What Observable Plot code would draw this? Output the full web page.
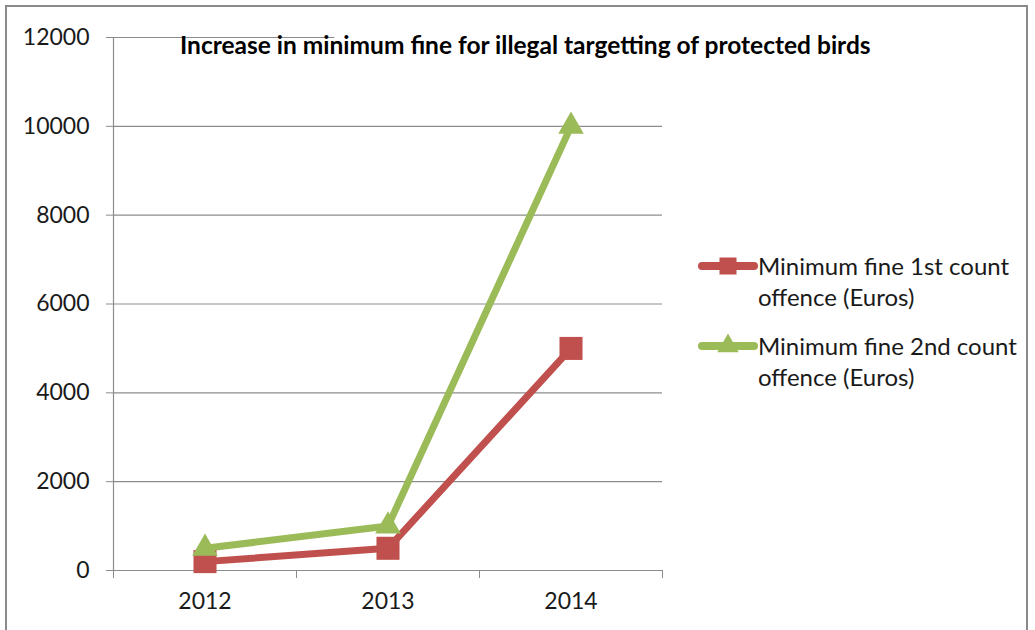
<!DOCTYPE html>
<html>
<head>
<meta charset="utf-8">
<script src="https://cdn.jsdelivr.net/npm/d3@7"></script>
<script src="https://cdn.jsdelivr.net/npm/@observablehq/plot@0.6"></script>
<style>
  html, body { margin: 0; padding: 0; background: #fff; }
  body { width: 1035px; height: 630px; position: relative; overflow: hidden; font-family: Lato, "Open Sans", sans-serif; }
  #frame { position: absolute; left: 5px; top: 5px; width: 1023px; height: 640px; border: 2px solid #8a8a8a; box-sizing: border-box; }
  #chart { position: absolute; left: 0; top: 0; }
  #title { position: absolute; left: 180px; top: 30px; font-weight: bold; font-size: 24.5px; color: #000; white-space: nowrap; }
  #legend { position: absolute; left: 698px; top: 250px; }
  .item { display: flex; align-items: flex-start; margin-bottom: 18px; }
  .item svg { flex: none; }
  .item .txt { font-size: 24px; line-height: 31px; color: #1a1a1a; }
  .mk { filter: drop-shadow(2px 3px 2px rgba(0,0,0,0.35)); }
</style>
</head>
<body>
<div id="frame"></div>
<div id="chart"></div>
<div id="title">Increase in minimum fine for illegal targetting of protected birds</div>
<div id="legend"></div>
<script>
const years = [2012, 2013, 2014];
const firstOffence = [200, 500, 5000];
const secondOffence = [500, 1000, 10000];
const yTicks = [0, 2000, 4000, 6000, 8000, 10000, 12000];
const seriesNames = ["Minimum fine 1st count offence (Euros)", "Minimum fine 2nd count offence (Euros)"];
const colors = ["#C0504D", "#9BBB59"];

const d1 = years.map((y, i) => ({year: y, value: firstOffence[i]}));
const d2 = years.map((y, i) => ({year: y, value: secondOffence[i]}));
const bounds = [years[0] - 0.5, ...years.map(y => y + 0.5)];
const grid = "#8c8c8c";

const plot = Plot.plot({
  width: 1035,
  height: 630,
  marginLeft: 113,
  marginRight: 373,
  marginTop: 37,
  marginBottom: 60,
  style: {fontFamily: "Lato, 'Open Sans', sans-serif", fontSize: "23px", color: "#1a1a1a", background: "transparent"},
  x: {type: "linear", domain: [bounds[0], bounds[bounds.length - 1]]},
  y: {domain: [0, 12000]},
  marks: [
    Plot.ruleY(yTicks.slice(1, -1), {stroke: grid, strokeWidth: 1.2}),
    Plot.ruleY([12000], {x1: bounds[0], x2: 2012.71, stroke: grid, strokeWidth: 1.2}),
    Plot.ruleY([0], {stroke: grid, strokeWidth: 1.2}),
    Plot.ruleX([bounds[0]], {y1: 0, y2: 12000, stroke: grid, strokeWidth: 1.2}),
    Plot.axisY({ticks: yTicks, tickSize: 7, tickPadding: 17, tickFormat: d => String(d), label: null, stroke: grid}),
    Plot.axisX({ticks: bounds, tickSize: 8, tickFormat: () => "", label: null, stroke: grid}),
    Plot.axisX({ticks: years, tickSize: 0, tickPadding: 22, tickFormat: d => String(d), label: null}),
    Plot.line(d1, {x: "year", y: "value", stroke: colors[0], strokeWidth: 7, strokeLinejoin: "round"}),
    Plot.dot(d1, {x: "year", y: "value", symbol: "square", r: 13, fill: colors[0], stroke: "none", ariaLabel: "mk1"}),
    Plot.line(d2, {x: "year", y: "value", stroke: colors[1], strokeWidth: 7, strokeLinejoin: "round"}),
    Plot.dot(d2, {x: "year", y: "value", symbol: "triangle", r: 9.5, fill: colors[1], stroke: "none", ariaLabel: "mk2"})
  ]
});
document.getElementById("chart").appendChild(plot);
plot.querySelectorAll('g[aria-label="mk1"], g[aria-label="mk2"]').forEach(g => g.classList.add("mk"));

const legend = d3.select("#legend");
const symbols = [d3.symbolSquare, d3.symbolTriangle];
const symSizes = [290, 200];
seriesNames.forEach((name, i) => {
  const it = legend.append("div").attr("class", "item");
  const s = it.append("svg").attr("width", 60).attr("height", 31);
  s.append("line").attr("x1", 4).attr("x2", 56).attr("y1", 16).attr("y2", 16)
    .attr("stroke", colors[i]).attr("stroke-width", 8).attr("stroke-linecap", "round");
  s.append("path").attr("d", d3.symbol(symbols[i], symSizes[i])()).attr("transform", "translate(30,16)")
    .attr("fill", colors[i]);
  const words = name.split(" ");
  const txt = it.append("div").attr("class", "txt");
  txt.append("div").text(words.slice(0, 4).join(" "));
  txt.append("div").text(words.slice(4).join(" "));
});
</script>
</body>
</html>
